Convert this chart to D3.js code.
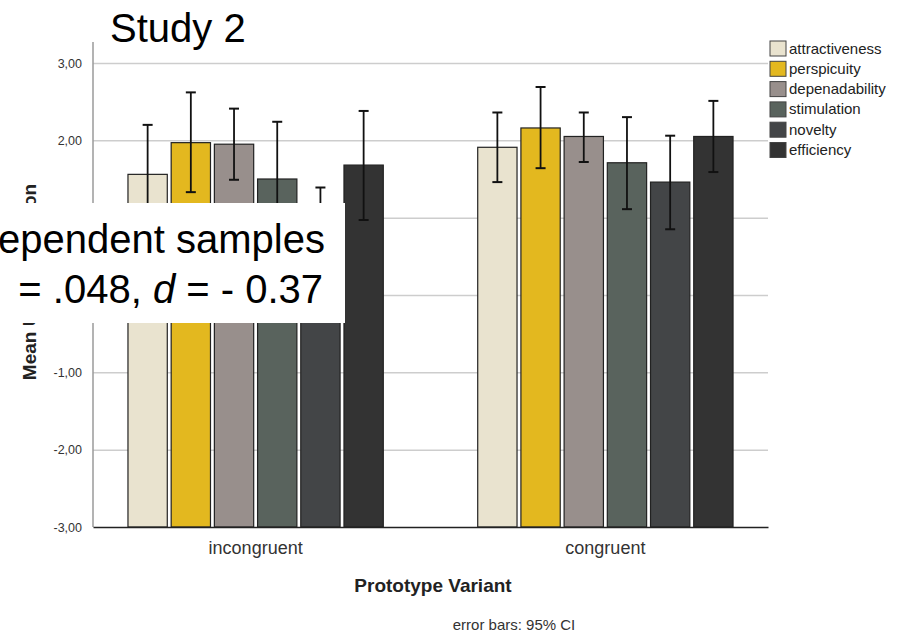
<!DOCTYPE html>
<html>
<head>
<meta charset="utf-8">
<script src="https://cdn.jsdelivr.net/npm/d3@7"></script>
<style>
  body { margin: 0; background: #fff; }
  svg { font-family: "Liberation Sans", Arial, sans-serif; display: block; }
</style>
</head>
<body>
<svg id="chart" width="912" height="633"></svg>
<script>
// data
var categories = ["incongruent", "congruent"];
var dimensions = ["attractiveness", "perspicuity", "depenadability", "stimulation", "novelty", "efficiency"];
var colors = ["#e9e3cf", "#e3b81f", "#988f8c", "#59635d", "#434547", "#333333"];

var incongruentMean = [1.56, 1.97, 1.95, 1.50, 0.85, 1.68];
var incongruentLow  = [0.92, 1.33, 1.49, 0.76, 0.31, 0.97];
var incongruentHigh = [2.20, 2.62, 2.41, 2.24, 1.39, 2.38];

var congruentMean = [1.91, 2.16, 2.05, 1.71, 1.46, 2.05];
var congruentLow  = [1.46, 1.64, 1.72, 1.11, 0.85, 1.59];
var congruentHigh = [2.36, 2.69, 2.36, 2.30, 2.06, 2.51];

var yTicks = [-3, -2, -1, 0, 1, 2, 3];

var svg = d3.select("#chart");
var plotLeft = 93, plotRight = 768, plotTop = 63, plotBottom = 527;

var rows = [];
[[incongruentMean, incongruentLow, incongruentHigh], [congruentMean, congruentLow, congruentHigh]].forEach(function(s, ci) {
  dimensions.forEach(function(dim, di) {
    rows.push({ cat: categories[ci], dim: dim, mean: s[0][di], lo: s[1][di], hi: s[2][di], color: colors[di] });
  });
});

var x = d3.scaleBand().domain(categories).range([plotLeft, plotRight]).paddingInner(0.27).paddingOuter(0.1);
var x1 = d3.scaleBand().domain(dimensions).range([0, x.bandwidth()]).paddingInner(0.09).paddingOuter(0);
var y = d3.scaleLinear().domain([-3, 3]).range([plotBottom, plotTop]);

// gridlines
var grid = svg.append("g")
    .attr("transform", "translate(" + plotLeft + ",0)")
    .call(d3.axisLeft(y).tickValues(yTicks.slice(1)).tickSize(-(plotRight - plotLeft)).tickFormat(""));
grid.select(".domain").remove();
grid.selectAll("line").attr("stroke", "#cdcdcd").attr("stroke-width", 1.5);

// y axis line + tick labels (SPSS style: comma decimals, plain hyphen)
svg.append("line")
    .attr("x1", plotLeft).attr("x2", plotLeft).attr("y1", 42).attr("y2", plotBottom)
    .attr("stroke", "#9a9a9a").attr("stroke-width", 1.5);

var yAxis = svg.append("g")
    .attr("transform", "translate(" + (plotLeft - 8) + ",0)")
    .call(d3.axisLeft(y).tickValues(yTicks).tickSize(0).tickFormat(function(d) {
      return d.toFixed(2).replace(".", ",");
    }));
yAxis.select(".domain").remove();
yAxis.selectAll("text").attr("font-size", 12.5).attr("fill", "#333").attr("font-family", "Liberation Sans, Arial, sans-serif");

// bars
var bar = svg.append("g").selectAll("g")
  .data(rows)
  .enter().append("g")
    .attr("transform", function(d) { return "translate(" + (x(d.cat) + x1(d.dim)) + ",0)"; });

bar.append("rect")
    .attr("y", function(d) { return y(d.mean); })
    .attr("width", x1.bandwidth())
    .attr("height", function(d) { return y(-3) - y(d.mean); })
    .attr("fill", function(d) { return d.color; })
    .attr("stroke", "#222")
    .attr("stroke-width", 1.2);

// error bars
var cx = x1.bandwidth() / 2;
bar.append("line")
    .attr("x1", cx).attr("x2", cx)
    .attr("y1", function(d) { return y(d.lo); })
    .attr("y2", function(d) { return y(d.hi); })
    .attr("stroke", "#111").attr("stroke-width", 1.8);
bar.append("line")
    .attr("x1", cx - 5).attr("x2", cx + 5)
    .attr("y1", function(d) { return y(d.hi); })
    .attr("y2", function(d) { return y(d.hi); })
    .attr("stroke", "#111").attr("stroke-width", 2);
bar.append("line")
    .attr("x1", cx - 5).attr("x2", cx + 5)
    .attr("y1", function(d) { return y(d.lo); })
    .attr("y2", function(d) { return y(d.lo); })
    .attr("stroke", "#111").attr("stroke-width", 2);

// x axis
var xAxis = svg.append("g")
    .attr("transform", "translate(0," + plotBottom + ")")
    .call(d3.axisBottom(x).tickSize(0).tickPadding(14));
xAxis.select(".domain").attr("stroke", "#222").attr("stroke-width", 1.5);
xAxis.selectAll("text").attr("font-size", 18).attr("fill", "#333").attr("font-family", "Liberation Sans, Arial, sans-serif");

// axis titles
svg.append("text")
    .attr("x", 433).attr("y", 592)
    .attr("text-anchor", "middle")
    .attr("font-size", 19).attr("font-weight", "bold").attr("fill", "#222")
    .text("Prototype Variant");

svg.append("text")
    .attr("transform", "translate(36,282) rotate(-90)")
    .attr("text-anchor", "middle")
    .attr("font-size", 19).attr("font-weight", "bold").attr("fill", "#222")
    .text("Mean UEQ Evaluation");

svg.append("text")
    .attr("x", 514).attr("y", 630)
    .attr("text-anchor", "middle")
    .attr("font-size", 15).attr("fill", "#333")
    .text("error bars: 95% CI");

// legend
var legend = svg.append("g").selectAll("g")
  .data(dimensions)
  .enter().append("g")
    .attr("transform", function(d, i) { return "translate(770," + (41 + i * 20.3) + ")"; });
legend.append("rect")
    .attr("width", 16).attr("height", 15)
    .attr("fill", function(d, i) { return colors[i]; })
    .attr("stroke", "#444").attr("stroke-width", 1);
legend.append("text")
    .attr("x", 19).attr("y", 12.5)
    .attr("font-size", 15).attr("fill", "#222")
    .text(function(d) { return d; });

// title
svg.append("text")
    .attr("x", 110).attr("y", 42)
    .attr("font-size", 40).attr("fill", "#000")
    .text("Study 2");

// pasted statistics box over the chart
svg.append("rect")
    .attr("x", 0).attr("y", 203).attr("width", 345).attr("height", 120)
    .attr("fill", "#fff");
svg.append("text")
    .attr("x", 325).attr("y", 253)
    .attr("text-anchor", "end")
    .attr("font-size", 40).attr("fill", "#000")
    .text("ependent samples");
var stat = svg.append("text")
    .attr("x", 323).attr("y", 303)
    .attr("text-anchor", "end")
    .attr("font-size", 40).attr("fill", "#000");
stat.append("tspan").text("= .048, ");
stat.append("tspan").attr("font-style", "italic").text("d");
stat.append("tspan").text(" = - 0.37");
</script>
</body>
</html>
